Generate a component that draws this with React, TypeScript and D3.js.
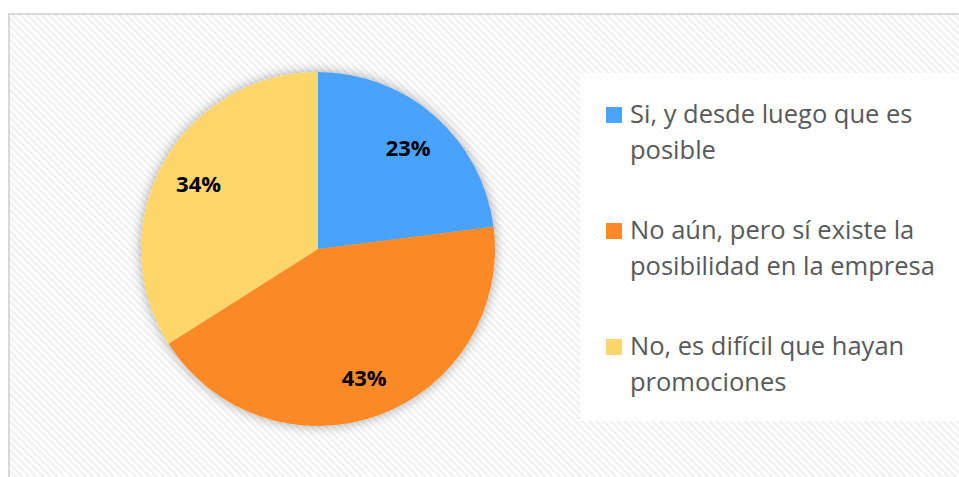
import React from 'react';
import * as d3 from 'd3';

const categories = [
  'Si, y desde luego que es posible',
  'No aún, pero sí existe la posibilidad en la empresa',
  'No, es difícil que hayan promociones',
];
const legendLines = [
  ['Si, y desde luego que es', 'posible'],
  ['No aún, pero sí existe la', 'posibilidad en la empresa'],
  ['No, es difícil que hayan', 'promociones'],
];
const values = [23, 43, 34];
const colors = ['#4aa3fc', '#fb8a26', '#fed66b'];

const W = 959;
const H = 477;
const cx = 318;
const cy = 249;
const radius = 177;

export default function App() {
  const pie = d3.pie<number>().sort(null).value(d => d);
  const arcs = pie(values);
  const arc = d3.arc<d3.PieArcDatum<number>>().innerRadius(0).outerRadius(radius);
  const labelArc = d3.arc<d3.PieArcDatum<number>>().innerRadius(radius * 0.77).outerRadius(radius * 0.77);
  const total = d3.sum(values);

  return (
    <svg width={W} height={H} style={{ position: 'absolute', left: 0, top: 0 }}>
      <defs>
        <pattern id="diag" width="5" height="5" patternUnits="userSpaceOnUse" patternTransform="rotate(45)">
          <rect width="5" height="5" fill="#ffffff" />
          <rect width="5" height="2.5" fill="#f1f1f1" />
        </pattern>
        <filter id="shadow" x="-20%" y="-20%" width="140%" height="140%">
          <feGaussianBlur in="SourceAlpha" stdDeviation="6" />
          <feOffset dx="0" dy="0" result="b" />
          <feComponentTransfer>
            <feFuncA type="linear" slope="0.35" />
          </feComponentTransfer>
          <feMerge>
            <feMergeNode />
            <feMergeNode in="SourceGraphic" />
          </feMerge>
        </filter>
      </defs>
      <rect x={0} y={0} width={W} height={H} fill="#ffffff" />
      <rect x={9} y={14} width={W} height={H} fill="url(#diag)" stroke="#d9d9d9" strokeWidth={2} />

      <g transform={`translate(${cx},${cy})`} filter="url(#shadow)">
        {arcs.map((a, i) => (
          <path key={categories[i]} d={arc(a) || ''} fill={colors[i]} />
        ))}
      </g>
      <g transform={`translate(${cx},${cy})`}>
        {arcs.map((a, i) => {
          const [x, y] = labelArc.centroid(a);
          return (
            <text key={i} x={x} y={y} textAnchor="middle" dominantBaseline="central"
              fontFamily="'Open Sans', sans-serif" fontWeight="bold" fontSize={22} fill="#000">
              {Math.round((values[i] / total) * 100)}%
            </text>
          );
        })}
      </g>

      <rect x={580} y={73} width={W - 580} height={348} fill="#ffffff" fillOpacity={0.85} />
      {legendLines.map((lines, i) => {
        const top = 107 + i * 116;
        return (
          <g key={i}>
            <rect x={606} y={top} width={16} height={16} fill={colors[i]} />
            {lines.map((t, j) => (
              <text key={j} x={630} y={top + 16 + j * 36} fontFamily="'Open Sans', sans-serif"
                fontSize={25.5} fill="#595959">{t}</text>
            ))}
          </g>
        );
      })}
    </svg>
  );
}
